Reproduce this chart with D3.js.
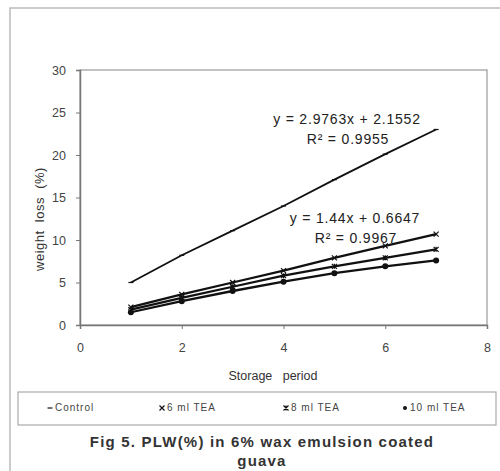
<!DOCTYPE html>
<html>
<head>
<meta charset="utf-8">
<script src="https://cdn.jsdelivr.net/npm/d3@7"></script>
<style>
  body { margin: 0; background: #fff; }
  svg { font-family: "Liberation Sans", Arial, sans-serif; }
  text { white-space: pre; }
</style>
</head>
<body>
<div id="chart"></div>
<script>
// storage period (days) and weight loss (%) per treatment
var days = [1, 2, 3, 4, 5, 6, 7]
var control = [5.0, 8.2, 11.1, 14.0, 17.1, 20.1, 23.0]
var tea6 = [2.1, 3.6, 5.0, 6.4, 7.9, 9.3, 10.7]
var tea8 = [1.8, 3.2, 4.5, 5.8, 6.9, 7.9, 8.9]
var tea10 = [1.5, 2.8, 4.0, 5.1, 6.1, 6.9, 7.6]
var seriesNames = ['Control', '6 ml TEA', '8 ml TEA', '10 ml TEA']
var xTicks = [0, 2, 4, 6, 8]
var yTicks = [0, 5, 10, 15, 20, 25, 30]

var series = [control, tea6, tea8, tea10]

var svg = d3.select('#chart')
  .append('svg')
    .attr('width', 500)
    .attr('height', 471)

// outer frame
svg.append('path')
    .attr('d', 'M10,471 L10,8 L500,8')
    .style('fill', 'none')
    .style('stroke', '#bbb')
    .style('stroke-width', 1.5)

var x = d3.scaleLinear().domain([0, 8]).range([80, 487])
var y = d3.scaleLinear().domain([0, 30]).range([325, 70])

// plot frame
svg.append('rect')
    .attr('x', x(0))
    .attr('y', y(30))
    .attr('width', x(8) - x(0))
    .attr('height', y(0) - y(30))
    .style('fill', 'none')
    .style('stroke', '#999')
    .style('stroke-width', 1.2)

svg.append('g')
    .attr('transform', 'translate(0,' + y(0) + ')')
    .call(d3.axisBottom(x).tickValues(xTicks).tickSize(4).tickPadding(14))
    .call(function(g) {
      g.select('.domain').style('stroke', '#777').style('stroke-width', 1.5)
      g.selectAll('line').style('stroke', '#777')
      g.selectAll('text').style('font-size', '12.5px').style('fill', '#444')
    })

svg.append('g')
    .attr('transform', 'translate(' + x(0) + ',0)')
    .call(d3.axisLeft(y).tickValues(yTicks).tickSize(4).tickPadding(10))
    .call(function(g) {
      g.select('.domain').style('stroke', '#777').style('stroke-width', 1.5)
      g.selectAll('line').style('stroke', '#777')
      g.selectAll('text').style('font-size', '12.5px').style('fill', '#444')
    })

svg.append('text')
    .attr('transform', 'translate(44,219) rotate(-90)')
    .attr('text-anchor', 'middle')
    .style('font-size', '13px')
    .style('letter-spacing', '0.5px')
    .style('fill', '#333')
    .text('weight  loss  (%)')

svg.append('text')
    .attr('x', 273)
    .attr('y', 380)
    .attr('text-anchor', 'middle')
    .style('font-size', '12.5px')
    .style('fill', '#333')
    .text('Storage   period')

var line = d3.line()
    .x(function(d, i) { return x(days[i]) })
    .y(function(d) { return y(d) })

series.forEach(function(s, k) {
  svg.append('path')
      .datum(s)
      .attr('d', line)
      .style('fill', 'none')
      .style('stroke', '#111')
      .style('stroke-width', k === 0 ? 1.8 : 2.3)
})

function marker(g, k, cx, cy, r) {
  if (k === 0) {
    g.append('line').attr('x1', cx - r).attr('x2', cx + r).attr('y1', cy).attr('y2', cy)
      .style('stroke', '#111').style('stroke-width', 1.2)
  } else if (k === 1) {
    g.append('path').attr('d', 'M' + (cx - r) + ',' + (cy - r) + 'L' + (cx + r) + ',' + (cy + r) +
        'M' + (cx - r) + ',' + (cy + r) + 'L' + (cx + r) + ',' + (cy - r))
      .style('stroke', '#111').style('stroke-width', 1.2)
  } else if (k === 2) {
    g.append('path').attr('d', 'M' + (cx - r) + ',' + (cy - r) + 'L' + (cx + r) + ',' + (cy + r) +
        'M' + (cx - r) + ',' + (cy + r) + 'L' + (cx + r) + ',' + (cy - r) +
        'M' + cx + ',' + (cy - r) + 'L' + cx + ',' + (cy + r))
      .style('stroke', '#111').style('stroke-width', 1.2)
  } else {
    g.append('circle').attr('cx', cx).attr('cy', cy).attr('r', r)
      .style('fill', '#111')
  }
}

var marks = svg.append('g')
series.forEach(function(s, k) {
  s.forEach(function(v, i) {
    marker(marks, k, x(days[i]), y(v), k === 3 ? 3 : 2.5)
  })
})

// trendline equations
var eqs = [
  { t1: 'y = 2.9763x + 2.1552', t2: 'R\u00b2 = 0.9955', cx: 347, cy: 124 },
  { t1: 'y = 1.44x + 0.6647', t2: 'R\u00b2 = 0.9967', cx: 355, cy: 223 }
]
eqs.forEach(function(e) {
  svg.append('text').attr('x', e.cx).attr('y', e.cy).attr('text-anchor', 'middle')
    .style('font-size', '14px').style('letter-spacing', '0.8px').style('fill', '#222').text(e.t1)
  svg.append('text').attr('x', e.cx + 1).attr('y', e.cy + 20).attr('text-anchor', 'middle')
    .style('font-size', '14px').style('letter-spacing', '0.8px').style('fill', '#222').text(e.t2)
})

// legend
svg.append('rect')
    .attr('x', 18)
    .attr('y', 392)
    .attr('width', 478)
    .attr('height', 33)
    .style('fill', 'none')
    .style('stroke', '#aaa')
    .style('stroke-width', 1.2)

var legX = [50, 162, 286, 405]
seriesNames.forEach(function(n, k) {
  marker(svg, k, legX[k], 408, k === 3 ? 2 : 2.5)
  svg.append('text').attr('x', legX[k] + 5).attr('y', 411)
    .style('font-size', '10px').style('letter-spacing', '1px').style('fill', '#444').text(n)
})

svg.append('text')
    .attr('x', 262)
    .attr('y', 447)
    .attr('text-anchor', 'middle')
    .style('font-size', '15px')
    .style('letter-spacing', '1.2px')
    .style('font-weight', 'bold')
    .style('fill', '#333')
    .text('Fig 5. PLW(%) in 6% wax emulsion coated')
svg.append('text')
    .attr('x', 262)
    .attr('y', 466)
    .attr('text-anchor', 'middle')
    .style('font-size', '15px')
    .style('letter-spacing', '1.2px')
    .style('font-weight', 'bold')
    .style('fill', '#333')
    .text('guava')
</script>
</body>
</html>
